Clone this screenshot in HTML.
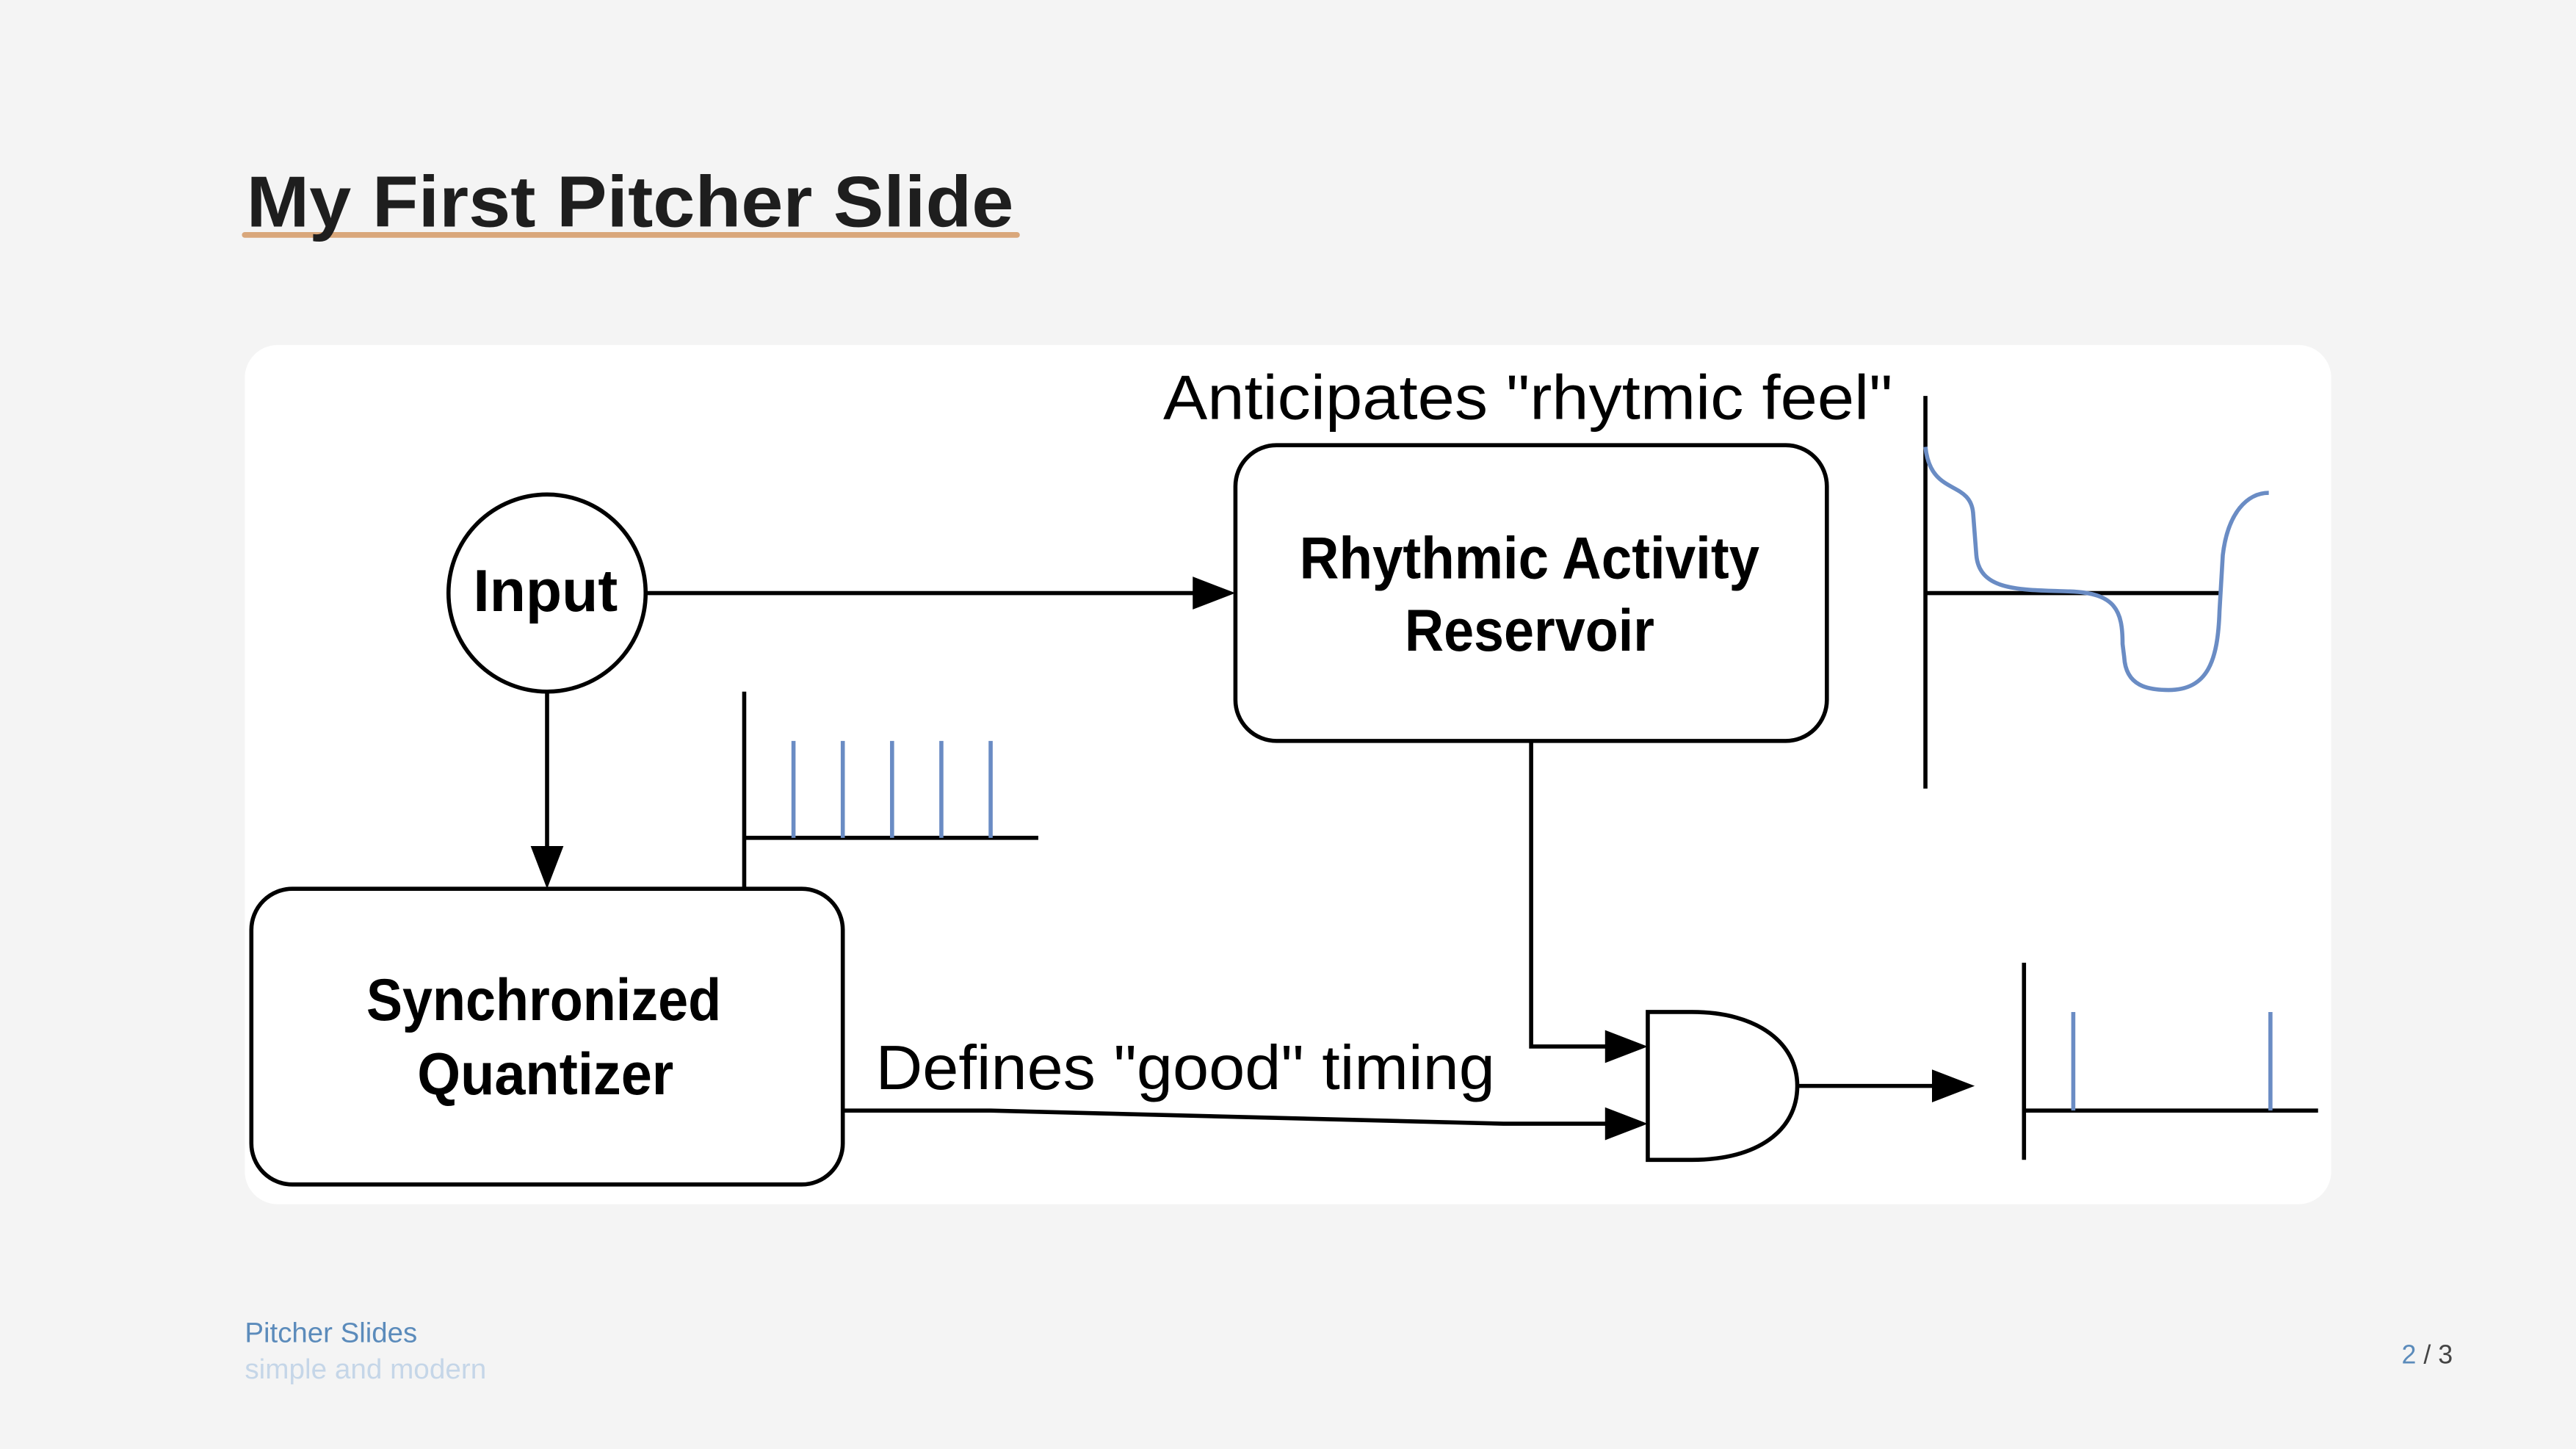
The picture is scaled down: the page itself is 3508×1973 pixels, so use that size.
<!DOCTYPE html>
<html><head><meta charset="utf-8"><style>html,body{margin:0;padding:0;background:#f4f4f4;}svg{display:block}</style></head>
<body>
<svg width="3508" height="1973" viewBox="0 0 1568 882" preserveAspectRatio="none" xmlns="http://www.w3.org/2000/svg" font-family="'Liberation Sans', 'DejaVu Sans', sans-serif">
<rect x="0" y="0" width="1568" height="882" fill="#f4f4f4"/>
<line x1="149" y1="143" x2="619" y2="143" stroke="#d9a77b" stroke-width="3.5" stroke-linecap="round"/>
<text x="150" y="138" font-size="44" font-weight="bold" fill="#1e1e1e" textLength="467" lengthAdjust="spacingAndGlyphs">My First Pitcher Slide</text>
<rect x="149" y="210" width="1270" height="523" rx="20" fill="#ffffff"/>
<g stroke="#000" stroke-width="2.5" fill="none">
<circle cx="333" cy="361" r="60"/>
<rect x="752" y="271" width="360" height="180" rx="25"/>
<rect x="153" y="541" width="360" height="180" rx="25"/>
<line x1="393" y1="361" x2="730" y2="361"/>
<line x1="333" y1="421" x2="333" y2="518"/>
<line x1="453" y1="421" x2="453" y2="541"/>
<line x1="453" y1="510" x2="632" y2="510"/>
<line x1="1172" y1="241" x2="1172" y2="480"/>
<line x1="1172" y1="361" x2="1352" y2="361"/>
<polyline points="932,451 932,637 982,637"/>
<polyline points="513,676 603,676 915,684 982,684"/>
<path d="M1003,616 L1030,616 C1070,616 1094,635 1094,661 C1094,688 1070,706 1030,706 L1003,706 Z"/>
<line x1="1094" y1="661" x2="1180" y2="661"/>
<line x1="1232" y1="586" x2="1232" y2="706"/>
<line x1="1232" y1="676" x2="1411" y2="676"/>
</g>
<g fill="#000">
<polygon points="752,361 726,351 726,371"/>
<polygon points="333,541 323,515 343,515"/>
<polygon points="1003,637 977,627 977,647"/>
<polygon points="1003,684 977,674 977,694"/>
<polygon points="1202,661 1176,651 1176,671"/>
</g>
<g stroke="#6a8cc4" stroke-width="2.5" fill="none">
<line x1="483" y1="451" x2="483" y2="510"/><line x1="513" y1="451" x2="513" y2="510"/><line x1="543" y1="451" x2="543" y2="510"/><line x1="573" y1="451" x2="573" y2="510"/><line x1="603" y1="451" x2="603" y2="510"/>
<line x1="1262" y1="616" x2="1262" y2="676"/><line x1="1382" y1="616" x2="1382" y2="676"/>
<path d="M1172,272 C1175,302 1199,292 1201,312 L1203,338 C1205,360 1230,359 1260,360 C1288,361 1292,372 1292,392 L1293,400 C1294,418 1308,420 1320,420 C1344,420 1350,402 1351,372 L1353,338 C1356,312 1368,300 1381,300"/>
</g>
<g font-size="36" font-weight="bold" fill="#000" text-anchor="middle" lengthAdjust="spacingAndGlyphs">
<text x="332" y="372" textLength="88" lengthAdjust="spacingAndGlyphs">Input</text>
<text x="931" y="352" textLength="280" lengthAdjust="spacingAndGlyphs">Rhythmic Activity</text>
<text x="931" y="396" textLength="152" lengthAdjust="spacingAndGlyphs">Reservoir</text>
<text x="331" y="621" textLength="216" lengthAdjust="spacingAndGlyphs">Synchronized</text>
<text x="332" y="666" textLength="156" lengthAdjust="spacingAndGlyphs">Quantizer</text>
</g>
<text x="708" y="255" font-size="38" fill="#000" textLength="444" lengthAdjust="spacingAndGlyphs">Anticipates "rhytmic feel"</text>
<text x="533" y="663" font-size="38" fill="#000" textLength="377" lengthAdjust="spacingAndGlyphs">Defines "good" timing</text>
<text x="149" y="817" font-size="17" fill="#5b8bbb" textLength="105" lengthAdjust="spacingAndGlyphs">Pitcher Slides</text>
<text x="149" y="839" font-size="17" fill="#c5d6e8" textLength="147" lengthAdjust="spacingAndGlyphs">simple and modern</text>
<text x="1493" y="830" font-size="16" text-anchor="end"><tspan fill="#5b8bbb">2</tspan><tspan fill="#444"> / 3</tspan></text>
</svg>
</body></html>
